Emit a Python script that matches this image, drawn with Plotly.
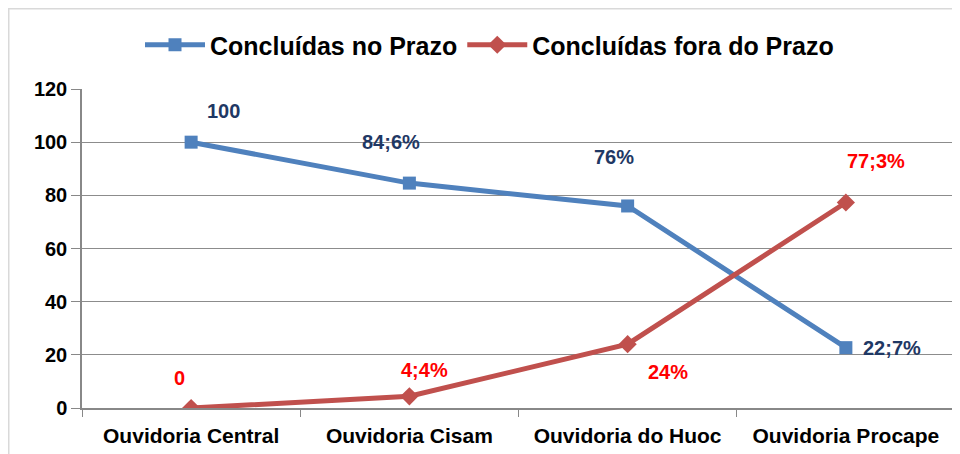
import plotly.graph_objects as go

categories = ["Ouvidoria Central", "Ouvidoria Cisam", "Ouvidoria do Huoc", "Ouvidoria Procape"]
no_prazo = [100, 84.6, 76, 22.7]
fora_prazo = [0, 4.4, 24, 77.3]
no_prazo_labels = ["100", "84;6%", "76%", "22;7%"]
fora_prazo_labels = ["0", "4;4%", "24%", "77;3%"]
y_ticks = [0, 20, 40, 60, 80, 100, 120]

# label offsets in pixels (xshift, yshift)
no_prazo_off = [(32, 31), (-18, 41), (-14, 49), (46, 0)]
fora_prazo_off = [(-12, 30), (15, 26), (40, -28), (30, 42)]

BLUE = "#4F81BD"
RED = "#C0504D"
FONT = "Liberation Sans, Arial, sans-serif"

fig = go.Figure()
fig.add_trace(go.Scatter(
    x=categories, y=no_prazo, mode="lines+markers", name="Concluídas no Prazo",
    line=dict(color=BLUE, width=5),
    marker=dict(symbol="square", size=13, color=BLUE),
))
fig.add_trace(go.Scatter(
    x=categories, y=fora_prazo, mode="lines+markers", name="Concluídas fora do Prazo",
    line=dict(color=RED, width=5),
    marker=dict(symbol="diamond", size=14, color=RED),
))

annotations = []
for c, v, t, (dx, dy) in zip(categories, no_prazo, no_prazo_labels, no_prazo_off):
    annotations.append(dict(x=c, y=v, text=t, showarrow=False,
                            xshift=dx, yshift=dy,
                            font=dict(family=FONT, size=20, color="#1F3864", weight="bold")))
for c, v, t, (dx, dy) in zip(categories, fora_prazo, fora_prazo_labels, fora_prazo_off):
    annotations.append(dict(x=c, y=v, text=t, showarrow=False,
                            xshift=dx, yshift=dy,
                            font=dict(family=FONT, size=20, color="#FF0000", weight="bold")))

# page body adds 8px offset
W, H = 952, 446
L, R, T, B = 74, 5, 81, 46
pw = W - L - R
ph = H - T - B

fig.update_layout(
    width=W, height=H,
    margin=dict(l=L, r=R, t=T, b=B, autoexpand=False),
    paper_bgcolor="white", plot_bgcolor="white",
    font=dict(family=FONT, color="black", weight="bold"),
    showlegend=True,
    legend=dict(orientation="h", x=(481.5 - L) / pw, xanchor="center",
                y=1 + (T - 37) / ph, yanchor="middle",
                font=dict(family=FONT, size=25, color="black", weight="bold"),
                itemwidth=60, traceorder="normal"),
    annotations=annotations,
    xaxis=dict(
        type="category", range=[-0.5, 3.5],
        tickson="boundaries", ticks="outside", ticklen=7, tickcolor="#888888",
        showline=True, linecolor="#888888", linewidth=1.5,
        showgrid=False, zeroline=False, automargin=False, tickangle=0,
        ticklabelstandoff=8,
        tickfont=dict(family=FONT, size=21, color="black", weight="bold"),
    ),
    yaxis=dict(
        range=[0, 120], tickvals=y_ticks, ticktext=[str(v) for v in y_ticks],
        ticks="outside", ticklen=9, tickcolor="#888888",
        showline=True, linecolor="#888888", linewidth=1.5,
        showgrid=True, gridcolor="#8C8C8C", gridwidth=1.3,
        zeroline=False, automargin=False,
        tickfont=dict(family=FONT, size=20, color="black", weight="bold"),
    ),
    shapes=[
        dict(type="line", xref="paper", yref="paper",
             x0=(0 - L) / pw, x1=(W + 10 - L) / pw,
             y0=1 + (T - 0.5) / ph, y1=1 + (T - 0.5) / ph,
             line=dict(color="#D9D9D9", width=2)),
        dict(type="line", xref="paper", yref="paper",
             x0=(0.5 - L) / pw, x1=(0.5 - L) / pw,
             y0=1 + T / ph, y1=-(B + 10) / ph,
             line=dict(color="#D9D9D9", width=2)),
    ],
)

fig.write_html("out.html")
